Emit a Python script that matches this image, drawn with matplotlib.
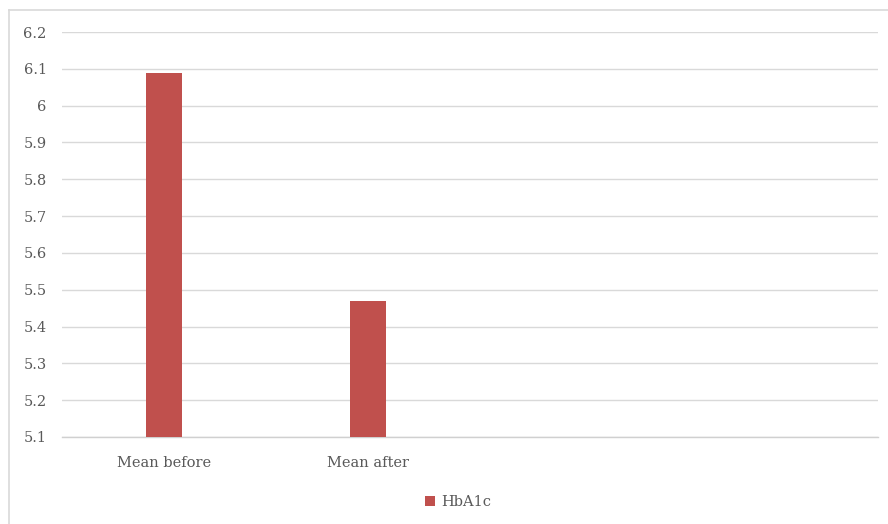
import matplotlib
matplotlib.use("Agg")
import matplotlib.pyplot as plt
from matplotlib.lines import Line2D

# HbA1c means before / after
categories = ["Mean before", "Mean after", "", ""]
hba1c = [6.09, 5.47, None, None]
y_ticks = [5.1, 5.2, 5.3, 5.4, 5.5, 5.6, 5.7, 5.8, 5.9, 6.0, 6.1, 6.2]
y_labels = ["5.1", "5.2", "5.3", "5.4", "5.5", "5.6", "5.7", "5.8", "5.9", "6", "6.1", "6.2"]

BAR = "#C0504D"
TXT = "#595959"
GRID = "#D9D9D9"
W, H = 888, 524

plt.rcParams["font.family"] = ["DejaVu Serif"]

fig = plt.figure(figsize=(W / 100, H / 100), dpi=100)
fig.patch.set_facecolor("white")

# outer chart border (only top and left edges fall inside the image)
fig.add_artist(Line2D([8.5 / W, 1.0], [1 - 9.5 / H, 1 - 9.5 / H], transform=fig.transFigure,
                      color=GRID, linewidth=1.2))
fig.add_artist(Line2D([8.5 / W, 8.5 / W], [0.0, 1 - 9.5 / H], transform=fig.transFigure,
                      color=GRID, linewidth=1.2))

ax = fig.add_axes([62 / W, 1 - 437 / H, (878 - 62) / W, (437 - 32) / H])

xs = list(range(len(categories)))
vals = [v for v in hba1c if v is not None]
ax.bar(xs[:len(vals)], [v - 5.1 for v in vals], bottom=5.1, width=0.176,
       color=BAR, label="HbA1c", zorder=3)

ax.set_xlim(-0.5, len(categories) - 0.5)
ax.set_ylim(5.1, 6.2)
ax.set_yticks(y_ticks)
ax.set_yticklabels(y_labels)
ax.set_xticks(xs)
ax.set_xticklabels(categories)
ax.tick_params(axis="both", length=0, labelsize=10.5, labelcolor=TXT)
ax.tick_params(axis="y", pad=11)
ax.tick_params(axis="x", pad=14)

ax.grid(axis="y", color=GRID, linewidth=1.0, zorder=0)
for s in ["top", "right", "left"]:
    ax.spines[s].set_visible(False)
ax.spines["bottom"].set_color("#D0D0D0")
ax.spines["bottom"].set_linewidth(1.0)

fig.legend(loc="center", bbox_to_anchor=(458 / W, 1 - 502 / H), frameon=False,
           fontsize=10.5, labelcolor=TXT, handlelength=0.7, handleheight=0.7,
           handletextpad=0.4)

fig.savefig("out.png", dpi=100)
